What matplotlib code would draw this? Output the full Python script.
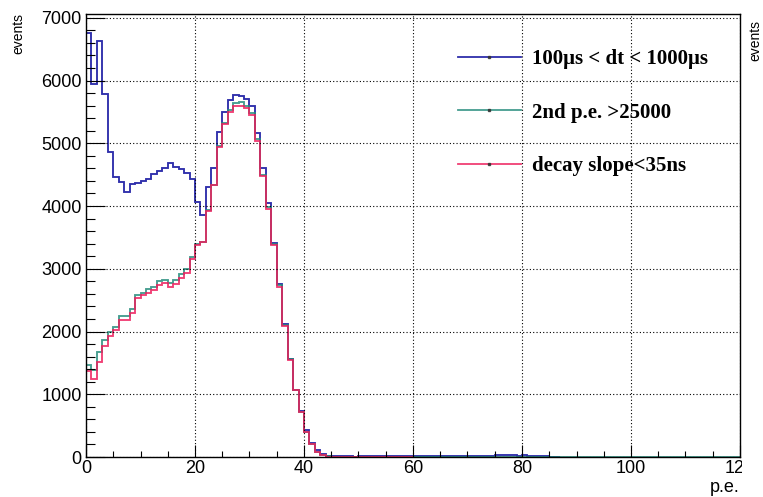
import numpy as np
import matplotlib
matplotlib.use("Agg")
import matplotlib.pyplot as plt
from matplotlib.lines import Line2D
from matplotlib.ticker import MultipleLocator, FixedLocator
from matplotlib.transforms import Bbox, TransformedBbox, IdentityTransform

# 1 p.e. bins starting at 0
bin_width = 1.0

dt_cut = [6763, 5947, 6624, 5787, 4855, 4466, 4375, 4216, 4348, 4364,
          4402, 4428, 4508, 4551, 4604, 4690, 4625, 4590, 4525, 4428,
          4070, 3858, 4305, 4599, 5185, 5495, 5696, 5776, 5760, 5707,
          5590, 5159, 4599, 4040, 3416, 2750, 2120, 1565, 1075, 732,
          432, 219, 112, 48, 20, 12, 10, 8, 9, 7,
          8, 10, 9, 8, 10, 9, 8, 10, 11, 9,
          12, 10, 11, 10, 12, 9, 11, 13, 12, 10,
          14, 12, 13, 15, 22, 28, 25, 30, 26, 20,
          24, 18, 15, 12, 10, 6, 4]

pe2_cut = [1471, 1391, 1667, 1870, 1987, 2073, 2243, 2254, 2361, 2574,
           2617, 2681, 2713, 2803, 2819, 2777, 2819, 2910, 2990, 3192,
           3400, 3427, 3938, 4340, 4950, 5330, 5530, 5640, 5650, 5590,
           5480, 5060, 4500, 3980, 3400, 2740, 2110, 1560, 1070, 725,
           405, 203, 85, 32, 8, 5, 4, 4, 3, 3,
           3, 4, 3, 3, 2, 3, 3, 2, 3, 2,
           3, 2, 2, 3, 2, 2, 3, 2, 2, 2,
           3, 2, 2, 3, 4, 4, 3, 4, 3, 3,
           3, 2, 2, 2, 1, 1, 1, 0, 0, 0,
           0, 0, 0, 0, 0, 0, 0, 0, 0, 0,
           0, 0, 0, 0, 0, 0, 0, 0, 0, 0,
           0, 0, 0, 0, 0, 0, 0, 0, 0, 0]

slope_cut = [1364, 1247, 1508, 1774, 1924, 2030, 2190, 2190, 2297, 2537,
             2574, 2617, 2654, 2734, 2766, 2713, 2750, 2857, 2937, 3149,
             3378, 3427, 3922, 4332, 4935, 5308, 5495, 5600, 5600, 5563,
             5456, 5041, 4482, 3960, 3373, 2713, 2094, 1550, 1060, 715,
             400, 200, 80, 30, 7, 5, 4, 3, 3, 3,
             2, 3, 2, 2, 3, 2, 2, 2, 2, 2]

labels = ["100\u03bcs < dt < 1000\u03bcs", "2nd p.e. >25000", "decay slope<35ns"]
colors = ["#0a0a9c", "#258c7c", "#ee1e5c"]
series = [dt_cut, pe2_cut, slope_cut]

x_ticks = [0, 20, 40, 60, 80, 100, 120]
y_ticks = [0, 1000, 2000, 3000, 4000, 5000, 6000, 7000]

W, H = 763, 497
fig = plt.figure(figsize=(W / 100, H / 100), dpi=100)
ax = fig.add_axes([86 / W, 40 / H, 654 / W, 443 / H])

for vals, col in zip(series, colors):
    vals = np.asarray(vals, dtype=float)
    edges = np.arange(len(vals) + 1) * bin_width
    ax.stairs(vals, edges, color=col, lw=1.35, alpha=0.85, baseline=None)

ax.set_xlim(0, 120)
ax.set_ylim(0, 7060)

ax.xaxis.set_major_locator(FixedLocator(x_ticks))
ax.xaxis.set_minor_locator(MultipleLocator(5))
ax.yaxis.set_major_locator(FixedLocator(y_ticks))
ax.yaxis.set_minor_locator(MultipleLocator(200))
ax.set_xticklabels([str(v) for v in x_ticks])
ax.set_yticklabels([str(v) for v in y_ticks])

for t in ax.get_xticklabels() + ax.get_yticklabels():
    t.set_fontfamily("Liberation Sans")
    t.set_fontsize(13)

ax.tick_params(axis="y", which="major", direction="in", length=13.5, width=0.8, pad=3)
ax.tick_params(axis="y", which="minor", direction="in", length=6.8, width=0.8)
ax.tick_params(axis="x", which="major", direction="in", length=9.0, width=0.8, pad=2.5)
ax.tick_params(axis="x", which="minor", direction="in", length=4.3, width=0.8)

ax.grid(True, which="major", color="black", linestyle=(0, (1, 2)), linewidth=0.8)
ax.set_axisbelow(False)
for s in ax.spines.values():
    s.set_linewidth(1.0)

# the last x label runs off the pad edge
last = ax.xaxis.get_major_ticks()[-1].label1
last.set_clip_on(True)
last.set_clip_box(TransformedBbox(Bbox([[0, 0], [742, H]]), IdentityTransform()))

fig.text(740 / W, 1 - 487 / H, "p.e.", ha="right", va="center",
         family="Liberation Sans", size=13)
fig.text(18 / W, 1 - 13 / H, "events", rotation=90, ha="center", va="top",
         family="Liberation Sans", size=10)
fig.text(755 / W, 1 - 20 / H, "events", rotation=90, ha="center", va="top",
         family="Liberation Sans", size=10)

handles = [Line2D([], [], color=c, lw=1.3, alpha=0.85, marker="s", ms=1.5,
                  mfc="#333333", mec="#333333") for c in colors]
leg = fig.legend(handles, labels, loc="upper left",
                 bbox_to_anchor=(458 / W, 1 - 49 / H), frameon=False,
                 borderpad=0, borderaxespad=0, handlelength=3.0,
                 handletextpad=0.55, labelspacing=1.62, numpoints=1,
                 prop=dict(family="Liberation Serif", weight="bold", size=15))

fig.savefig("out.png", dpi=100)
